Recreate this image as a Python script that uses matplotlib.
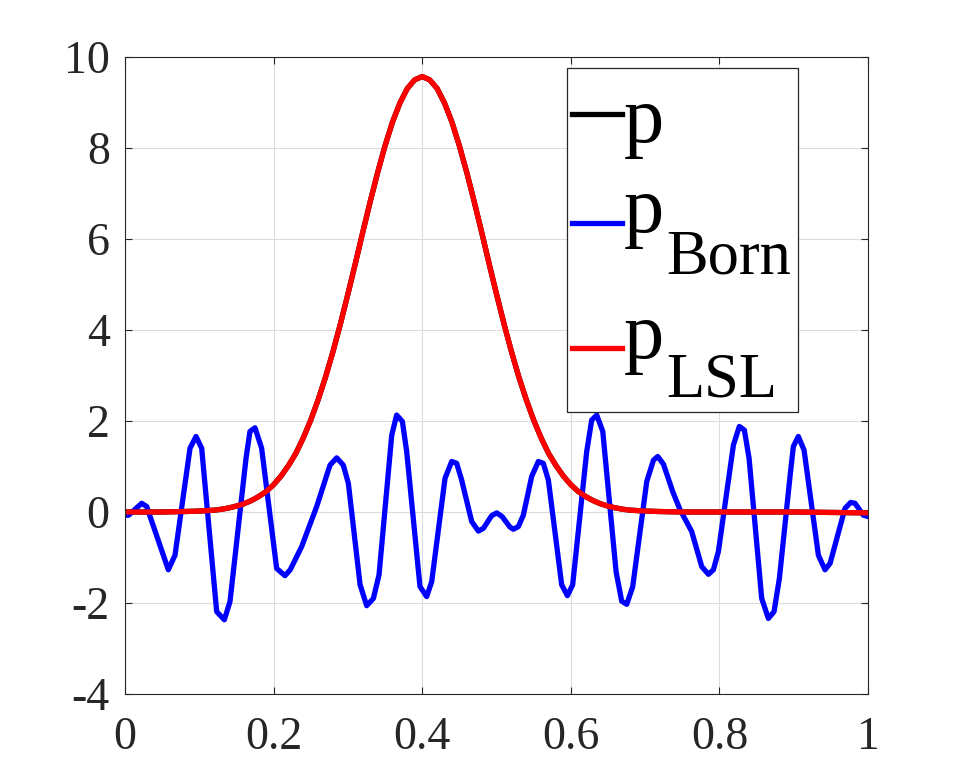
import numpy as np
import matplotlib.pyplot as plt
from matplotlib.patches import Rectangle

# p_Born: corners of the blue trace
x_born = [0.0, 0.005, 0.0224, 0.0292, 0.0583, 0.0673, 0.0875, 0.0956, 0.1032,
          0.1234, 0.1337, 0.1413, 0.1629, 0.1682, 0.175, 0.1839, 0.2041, 0.2153,
          0.2224, 0.2378, 0.258, 0.2759, 0.2849, 0.2938, 0.3006, 0.3164, 0.3253,
          0.3343, 0.3419, 0.359, 0.3656, 0.3733, 0.3791, 0.397, 0.406, 0.4128,
          0.4307, 0.4397, 0.4464, 0.4531, 0.4666, 0.4756, 0.4823, 0.4935, 0.5003,
          0.5075, 0.518, 0.5227, 0.5294, 0.5361, 0.5473, 0.5563, 0.563, 0.5698,
          0.5877, 0.5954, 0.6025, 0.6214, 0.6281, 0.6349, 0.643, 0.6609, 0.6685,
          0.6753, 0.6833, 0.7022, 0.7112, 0.717, 0.7247, 0.7371, 0.747, 0.7627,
          0.7762, 0.7852, 0.7919, 0.7986, 0.8188, 0.8268, 0.8336, 0.8399, 0.8569,
          0.8659, 0.8735, 0.8807, 0.895, 0.8995, 0.9062, 0.9139, 0.9332, 0.9421,
          0.9489, 0.969, 0.9767, 0.9825, 0.9937, 1.0]
y_born = [-0.07, -0.07, 0.19, 0.12, -1.27, -0.95, 1.40, 1.66, 1.40,
          -2.19, -2.37, -1.97, 1.18, 1.77, 1.85, 1.40, -1.24, -1.40,
          -1.27, -0.76, 0.12, 1.03, 1.19, 1.03, 0.63, -1.60, -2.06,
          -1.90, -1.38, 1.69, 2.13, 1.99, 1.33, -1.64, -1.86, -1.53,
          0.74, 1.11, 1.07, 0.70, -0.21, -0.42, -0.36, -0.08, -0.02,
          -0.10, -0.33, -0.38, -0.32, -0.07, 0.78, 1.11, 1.07, 0.70,
          -1.60, -1.84, -1.60, 1.33, 2.02, 2.13, 1.77, -1.31, -1.96,
          -2.03, -1.64, 0.67, 1.14, 1.22, 1.05, 0.45, 0.05, -0.43,
          -1.20, -1.37, -1.27, -0.87, 1.47, 1.88, 1.80, 1.18, -1.90,
          -2.34, -2.19, -1.46, 0.78, 1.44, 1.66, 1.36, -0.95, -1.27,
          -1.13, 0.08, 0.21, 0.19, -0.07, -0.10]

# p_LSL (and p, hidden underneath it)
x_lsl = [0.0, 0.05, 0.08, 0.1, 0.11, 0.12, 0.13, 0.14, 0.15, 0.16, 0.17, 0.18,
         0.19, 0.2, 0.21, 0.22, 0.23, 0.24, 0.25, 0.26, 0.27, 0.28, 0.29, 0.3,
         0.31, 0.32, 0.33, 0.34, 0.35, 0.36, 0.37, 0.38, 0.39, 0.4, 0.41, 0.42,
         0.43, 0.44, 0.45, 0.46, 0.47, 0.48, 0.49, 0.5, 0.51, 0.52, 0.53, 0.54,
         0.55, 0.56, 0.57, 0.58, 0.59, 0.6, 0.61, 0.62, 0.63, 0.64, 0.65, 0.66,
         0.67, 0.68, 0.69, 0.7, 0.72, 0.75, 0.8, 0.9, 1.0]
y_lsl = [0.0, 0.0, 0.01, 0.02, 0.03, 0.04, 0.06, 0.09, 0.13, 0.18, 0.25, 0.34,
         0.45, 0.60, 0.79, 1.02, 1.29, 1.63, 2.02, 2.47, 2.97, 3.53, 4.14, 4.79,
         5.46, 6.15, 6.82, 7.46, 8.05, 8.57, 8.99, 9.31, 9.50, 9.57, 9.50, 9.31,
         8.99, 8.57, 8.05, 7.46, 6.82, 6.15, 5.46, 4.79, 4.14, 3.53, 2.97, 2.47,
         2.02, 1.63, 1.29, 1.02, 0.79, 0.60, 0.45, 0.34, 0.25, 0.18, 0.13, 0.09,
         0.06, 0.04, 0.03, 0.02, 0.01, 0.0, 0.0, 0.0, -0.02]

xticks = [0, 0.2, 0.4, 0.6, 0.8, 1]
xtick_labels = ["0", "0.2", "0.4", "0.6", "0.8", "1"]
yticks = [-4, -2, 0, 2, 4, 6, 8, 10]
ytick_labels = ["-4", "-2", "0", "2", "4", "6", "8", "10"]

legend_names = ["p", "p", "p"]
legend_subs = ["", "Born", "LSL"]
legend_colors = ["black", "#0000ff", "#ff0000"]

plt.rcParams["font.family"] = ["Liberation Serif", "DejaVu Serif"]

dark = "#262626"
fig = plt.figure(figsize=(9.6, 7.8), dpi=100)
ax = fig.add_axes([0.1302, 0.1103, 0.774, 0.8166])

ax.plot(x_lsl, y_lsl, color=legend_colors[0], lw=3.8)
ax.plot(x_born, y_born, color=legend_colors[1], lw=3.8)
ax.plot(x_lsl, y_lsl, color=legend_colors[2], lw=3.8)

ax.set_xlim(0, 1)
ax.set_ylim(-4, 10)
ax.set_xticks(xticks)
ax.set_xticklabels(xtick_labels)
ax.set_yticks(yticks)
ax.set_yticklabels(ytick_labels)
ax.grid(True, color="#dcdcdc", lw=0.8)
ax.set_axisbelow(True)
ax.tick_params(direction="in", length=5, width=0.8, colors=dark, labelsize=33,
               top=True, right=True, pad=11)
ax.tick_params(axis="x", pad=16)
for s in ax.spines.values():
    s.set_color(dark)
    s.set_linewidth(0.8)


# legend drawn by hand, MATLAB style with big lowered subscripts
def px(x, y):
    # figure pixels (from top-left) -> axes fraction
    return (x - 125) / 743.0, (694 - y) / 637.0


x0, y0 = px(567, 412)
x1, y1 = px(798, 68)
ax.add_patch(Rectangle((x0, y0), x1 - x0, y1 - y0, transform=ax.transAxes,
                       facecolor="white", edgecolor=dark, lw=0.9, zorder=5,
                       clip_on=False))
handle_y = [114, 223, 348]
base_y = [142, 232, 358]
sub_y = [0, 273, 397]
for i in range(3):
    hx0, hy = px(572, handle_y[i])
    hx1, _ = px(622, handle_y[i])
    ax.plot([hx0, hx1], [hy, hy], color=legend_colors[i], lw=3.8,
            transform=ax.transAxes, zorder=6, clip_on=False)
    tx, ty = px(624, base_y[i])
    ax.text(tx, ty, legend_names[i], transform=ax.transAxes, fontsize=58,
            va="baseline", ha="left", color="black", zorder=6)
    if legend_subs[i]:
        sx, sy = px(666, sub_y[i])
        ax.text(sx, sy, legend_subs[i], transform=ax.transAxes, fontsize=45,
                va="baseline", ha="left", color="black", zorder=6)

fig.savefig("out.png", dpi=100)
